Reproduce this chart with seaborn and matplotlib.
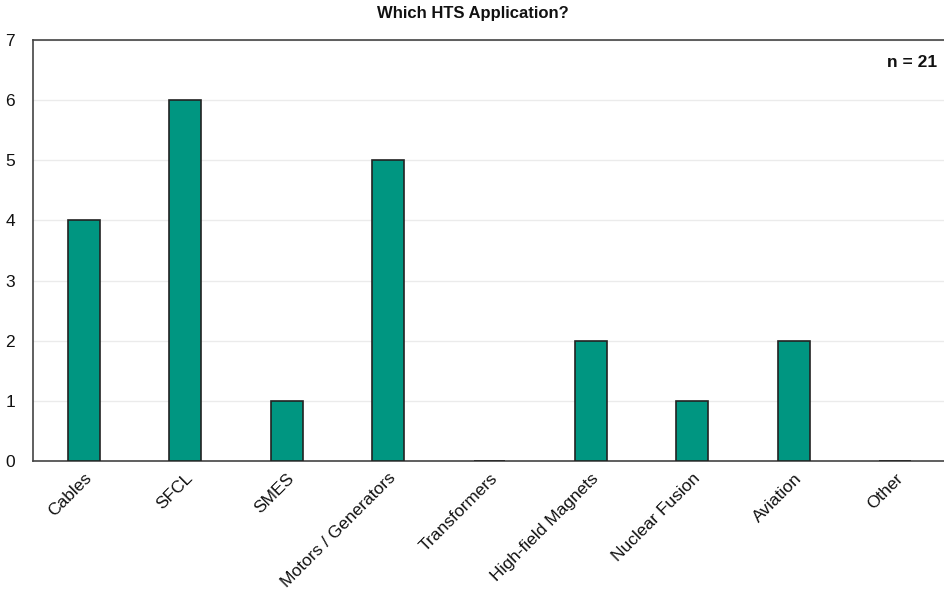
import matplotlib
matplotlib.use("Agg")
import matplotlib.pyplot as plt
import seaborn as sns
import pandas as pd

categories = ["Cables", "SFCL", "SMES", "Motors / Generators", "Transformers",
              "High-field Magnets", "Nuclear Fusion", "Aviation", "Other"]
counts = [4, 6, 1, 5, 0, 2, 1, 2, 0]
y_ticks = [0, 1, 2, 3, 4, 5, 6, 7]

sns.set_theme(style="white")
plt.rcParams["font.family"] = ["Liberation Sans", "DejaVu Sans"]

df = pd.DataFrame({"Application": categories, "Count": counts})

fig = plt.figure(figsize=(9.45, 6.0), dpi=100)
ax = fig.add_axes([0.035, 0.232, 0.966, 0.701])

sns.barplot(data=df, x="Application", y="Count", ax=ax, color="#009681",
            saturation=1, width=0.315, edgecolor="#222222", linewidth=1.2,
            zorder=3)

ax.set_ylim(0, 7)
ax.set_yticks(y_ticks)
ax.set_xlim(-0.5, len(categories) - 0.5)
ax.yaxis.grid(True, color="#ebebeb", linewidth=1.0, zorder=0)
ax.set_axisbelow(True)

for side in ["left", "bottom", "top", "right"]:
    ax.spines[side].set_visible(True)
    ax.spines[side].set_color("#444444")
    ax.spines[side].set_linewidth(1.2)

ax.set_xlabel("")
ax.set_ylabel("")
ax.tick_params(axis="both", length=0, labelsize=12.5, colors="#111111")
ax.tick_params(axis="y", pad=13)
ax.tick_params(axis="x", pad=7)
plt.setp(ax.get_xticklabels(), rotation=45, ha="right", rotation_mode="anchor")

fig.text(0.5, 0.978, "Which HTS Application?", ha="center", va="center",
         fontsize=12, fontweight="bold", color="#111111")
ax.text(0.99, 0.965, "n = 21", transform=ax.transAxes, ha="right", va="top",
        fontsize=12.5, fontweight="bold", color="#111111")

fig.savefig("out.png", dpi=100)
